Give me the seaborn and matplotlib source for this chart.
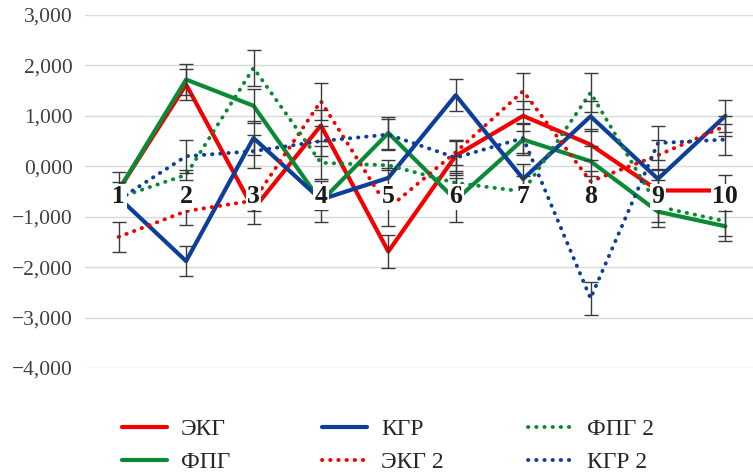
import matplotlib
matplotlib.use("Agg")
import matplotlib.pyplot as plt
import seaborn as sns
from matplotlib.lines import Line2D
from matplotlib.ticker import FuncFormatter

# point numbers along the x axis
cats = [1, 2, 3, 4, 5, 6, 7, 8, 9, 10]

# series values
ekg = [-0.47, 1.62, -0.85, 0.81, -1.69, 0.21, 1.00, 0.43, -0.48, -0.48]
fpg = [-0.47, 1.72, 1.20, -0.70, 0.66, -0.67, 0.53, 0.10, -0.90, -1.19]
kgr = [-0.62, -1.88, 0.56, -0.66, -0.23, 1.41, -0.25, 0.99, -0.25, 1.00]
ekg2 = [-1.40, -0.89, -0.68, 1.29, -0.83, 0.28, 1.49, -0.30, 0.22, 0.80]
fpg2 = [-0.62, -0.17, 1.95, 0.07, 0.02, -0.33, -0.50, 1.46, -0.80, -1.09]
kgr2 = [-0.66, 0.20, 0.30, 0.50, 0.63, 0.17, 0.56, -2.62, 0.46, 0.53]

# error bar half-widths
ekg_err = [0.15, 0.30, 0.30, 0.30, 0.33, 0.30, 0.30, 0.30, 0.20, 0.30]
fpg_err = [0.35, 0.30, 0.34, 0.40, 0.32, 0.43, 0.30, 0.30, 0.30, 0.30]
kgr_err = [0.15, 0.30, 0.33, 0.20, 0.20, 0.32, 0.30, 0.30, 0.20, 0.32]
ekg2_err = [0.30, 0.28, 0.20, 0.37, 0.35, 0.25, 0.35, 0.20, 0.30, 0.20]
fpg2_err = [0.15, 0.10, 0.35, 0.33, 0.10, 0.20, 0.30, 0.38, 0.30, 0.30]
kgr2_err = [0.15, 0.33, 0.33, 0.30, 0.30, 0.35, 0.30, 0.33, 0.33, 0.30]

names = ["ЭКГ", "ФПГ", "КГР", "ЭКГ 2", "ФПГ 2", "КГР 2"]
values = [ekg, fpg, kgr, ekg2, fpg2, kgr2]
errors = [ekg_err, fpg_err, kgr_err, ekg2_err, fpg2_err, kgr2_err]

RED, GREEN, BLUE = "#f50000", "#0a8a35", "#0c3f9a"
DOTTED = (0, (0.1, 2.0))
styles = [
    (RED, "-"), (GREEN, "-"), (BLUE, "-"),
    (RED, DOTTED), (GREEN, DOTTED), (BLUE, DOTTED),
]

sns.set_theme(style="white")
plt.rcParams["font.family"] = ["Liberation Serif", "DejaVu Serif"]

W, H = 753, 472
fig = plt.figure(figsize=(W / 100, H / 100), dpi=100)
ax = fig.add_axes([85 / W, 1 - 368 / H, 1 - 85 / W, (368 - 15) / H])

for name, vals, err, (col, ls) in zip(names, values, errors, styles):
    lw = 3.0 if ls == "-" else 2.8
    sns.lineplot(x=cats, y=vals, ax=ax, color=col, linewidth=lw, linestyle=ls,
                 dash_capstyle="round", legend=False, zorder=2)
    ax.errorbar(cats, vals, yerr=err, fmt="none", ecolor="#3a3a3a",
                elinewidth=1, capsize=5, capthick=1, zorder=3)

# category numbers drawn over the lines, as in the original
for c in cats:
    ax.text(c, -0.73, str(c), ha="center", va="baseline", fontsize=18.5,
            fontweight="bold", color="#1a1a1a", zorder=5,
            bbox=dict(boxstyle="square,pad=0.06", fc="white", ec="none"))

ax.set_xlim(0.5, 10.41)
ax.set_ylim(-4, 3)
ax.set_yticks([3, 2, 1, 0, -1, -2, -3, -4])
ax.yaxis.set_major_formatter(FuncFormatter(
    lambda v, p: f"{v:.3f}".replace(".", ",").replace("-", "\u2212")))
ax.set_xticks([])
ax.tick_params(axis="y", length=0, pad=8.6, labelsize=15.5, labelcolor="#404040")
ax.yaxis.grid(True, color="#d9d9d9", linewidth=1)
ax.set_axisbelow(True)
for s in ax.spines.values():
    s.set_visible(False)

# legend: three columns of two entries
handles = []
for col, ls in styles:
    lw = 3.0 if ls == "-" else 2.8
    handles.append(Line2D([], [], color=col, linewidth=lw, linestyle=ls,
                          dash_capstyle="round", solid_capstyle="round"))

col_x = [122, 322, 528]
for k, x in enumerate(col_x):
    idx = [2 * k, 2 * k + 1]
    fig.legend([handles[i] for i in idx], [names[i] for i in idx],
               loc="center left", bbox_to_anchor=(x / W, 1 - 446 / H),
               frameon=False, fontsize=17, handlelength=1.9,
               handletextpad=0.6, labelspacing=0.5, borderpad=0,
               borderaxespad=0, labelcolor="#262626")

fig.savefig("out.png", dpi=100)
